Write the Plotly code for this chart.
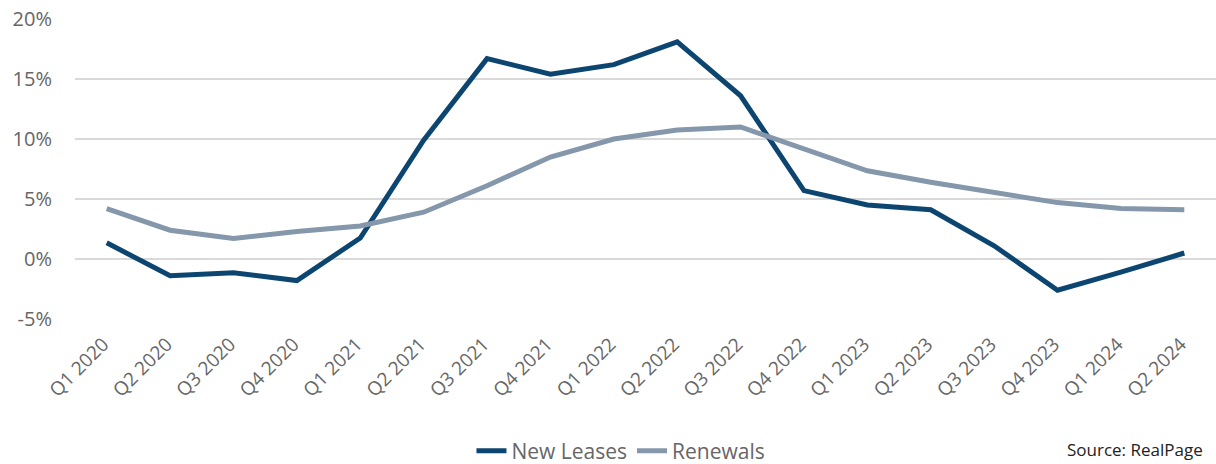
import plotly.graph_objects as go

quarters = ["Q1 2020", "Q2 2020", "Q3 2020", "Q4 2020", "Q1 2021", "Q2 2021", "Q3 2021",
            "Q4 2021", "Q1 2022", "Q2 2022", "Q3 2022", "Q4 2022", "Q1 2023", "Q2 2023",
            "Q3 2023", "Q4 2023", "Q1 2024", "Q2 2024"]
new_leases = [1.35, -1.4, -1.15, -1.8, 1.75, 9.9, 16.7, 15.4, 16.2, 18.1, 13.6, 5.7,
              4.5, 4.1, 1.1, -2.6, -1.1, 0.5]
renewals = [4.2, 2.4, 1.7, 2.3, 2.75, 3.9, 6.1, 8.5, 10.0, 10.75, 11.0, 9.2,
            7.35, 6.4, 5.5, 4.7, 4.2, 4.1]
y_ticks = [-5, 0, 5, 10, 15, 20]
y_tick_labels = ["-5%", "0%", "5%", "10%", "15%", "20%"]

FONT = "'Open Sans', Lato, sans-serif"
TXT = "#666666"

fig = go.Figure()
fig.add_trace(go.Scatter(x=quarters, y=new_leases, mode="lines", name="New Leases",
                         line=dict(color="#0c4670", width=5)))
fig.add_trace(go.Scatter(x=quarters, y=renewals, mode="lines", name="Renewals",
                         line=dict(color="#8497ab", width=5)))

fig.update_layout(
    width=1216, height=464,
    margin=dict(l=75, r=0, t=19, b=145, autoexpand=False),
    paper_bgcolor="white", plot_bgcolor="white",
    font=dict(family=FONT, color=TXT, size=17),
    showlegend=True,
    legend=dict(orientation="h", x=0.4785, xanchor="center", y=-0.44, yanchor="middle",
                font=dict(size=21, color=TXT, family=FONT),
                tracegroupgap=0, yref="paper"),
    xaxis=dict(type="category", tickangle=-45, showgrid=False, zeroline=False,
               showline=False, ticks="", tickfont=dict(size=19, color=TXT),
               tickvals=quarters, ticktext=[q + "\u00a0" for q in quarters],
               range=[-0.5, len(quarters) - 0.5], automargin=False,
               ticklabelstandoff=6, ticklabeloverflow="allow"),
    yaxis=dict(range=[-5, 20], tickvals=y_ticks, ticktext=y_tick_labels,
               showgrid=True, gridcolor="#d9d9d9", gridwidth=2, zeroline=False,
               showline=False, ticks="", tickfont=dict(size=20, color=TXT),
               ticklabelstandoff=22, automargin=False, ticklabeloverflow="allow"),
    annotations=[dict(text="Source: RealPage", xref="paper", yref="paper",
                      x=0.868, y=-0.48, xanchor="left", yanchor="bottom", showarrow=False,
                      font=dict(size=17, color="#222222", family=FONT))],
)

fig.write_html("out.html", config={"displayModeBar": False},
               post_script="document.body.style.margin='0';")
